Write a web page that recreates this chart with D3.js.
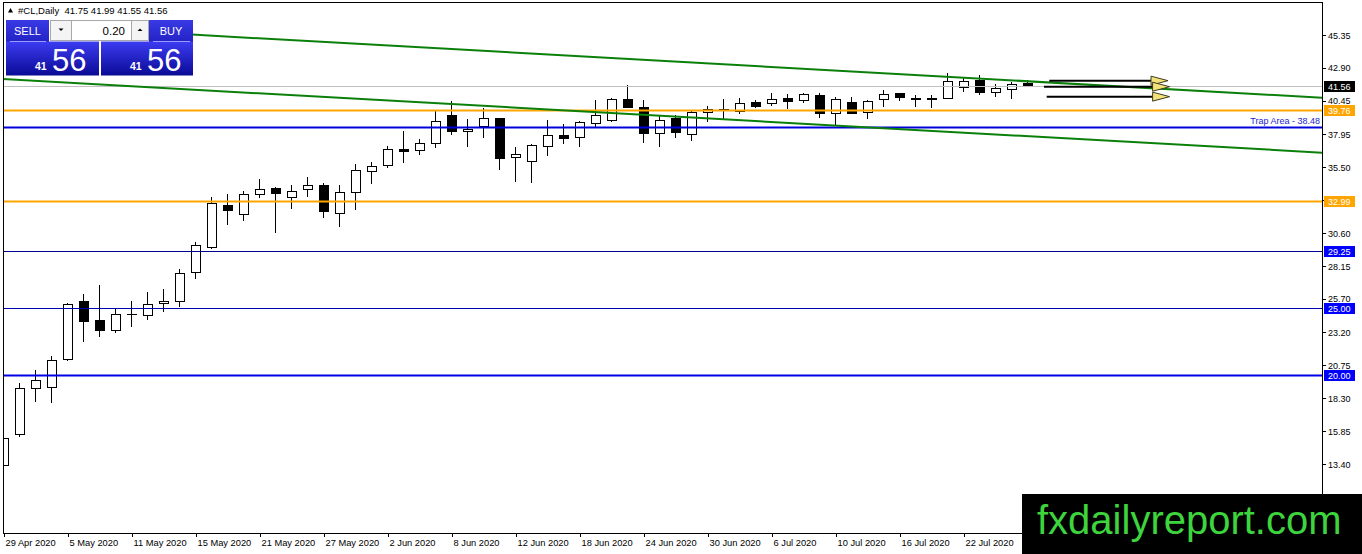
<!DOCTYPE html>
<html>
<head>
<meta charset="utf-8">
<script src="https://d3js.org/d3.v7.min.js"></script>
<style>
    html, body { margin: 0; padding: 0; background: #ffffff; }
    svg { display: block; font-family: "Liberation Sans", Arial, sans-serif; }
</style>
</head>
<body>
<svg id="chart" width="1362" height="554"></svg>
<script>
// chart data

var symbol = "#CL,Daily";

var dates = [
    "29 Apr 2020", "30 Apr 2020",
    "1 May 2020", "4 May 2020", "5 May 2020", "6 May 2020", "7 May 2020", "8 May 2020",
    "11 May 2020", "12 May 2020", "13 May 2020", "14 May 2020", "15 May 2020",
    "18 May 2020", "19 May 2020", "20 May 2020", "21 May 2020", "22 May 2020",
    "25 May 2020", "26 May 2020", "27 May 2020", "28 May 2020", "29 May 2020",
    "1 Jun 2020", "2 Jun 2020", "3 Jun 2020", "4 Jun 2020", "5 Jun 2020",
    "8 Jun 2020", "9 Jun 2020", "10 Jun 2020", "11 Jun 2020", "12 Jun 2020",
    "15 Jun 2020", "16 Jun 2020", "17 Jun 2020", "18 Jun 2020", "19 Jun 2020",
    "22 Jun 2020", "23 Jun 2020", "24 Jun 2020", "25 Jun 2020", "26 Jun 2020",
    "29 Jun 2020", "30 Jun 2020", "1 Jul 2020", "2 Jul 2020", "3 Jul 2020",
    "6 Jul 2020", "7 Jul 2020", "8 Jul 2020", "9 Jul 2020", "10 Jul 2020",
    "13 Jul 2020", "14 Jul 2020", "15 Jul 2020", "16 Jul 2020", "17 Jul 2020",
    "20 Jul 2020", "21 Jul 2020", "22 Jul 2020", "23 Jul 2020", "24 Jul 2020",
    "27 Jul 2020", "28 Jul 2020"
];

var opens = [
    13.33, 15.64, 19.04, 19.12, 21.20, 25.49, 24.11, 23.33, 24.52, 24.48,
    25.37, 25.49, 27.68, 29.51, 32.62, 31.99, 33.49, 33.93, 33.27, 33.81,
    34.11, 32.07, 33.61, 35.20, 35.60, 36.86, 36.73, 37.26, 39.39, 38.18,
    38.57, 39.10, 36.24, 35.95, 37.06, 37.83, 37.73, 38.77, 38.95, 40.58,
    39.97, 38.03, 39.10, 37.96, 39.59, 39.71, 39.69, 40.36, 40.23, 40.64,
    40.46, 40.88, 39.52, 40.34, 39.59, 40.58, 40.96, 40.62, 40.62, 40.64,
    41.46, 41.99, 41.08, 41.31, 41.75
];

var highs = [
    16.76, 19.42, 20.41, 21.45, 25.37, 26.06, 26.73, 24.92, 25.54, 26.19,
    26.42, 27.91, 29.91, 33.27, 33.51, 33.73, 34.63, 34.00, 34.18, 34.75,
    34.31, 34.18, 35.74, 35.87, 37.09, 38.20, 37.61, 39.71, 40.44, 39.10,
    39.94, 39.20, 37.03, 37.23, 39.02, 38.70, 38.95, 40.51, 40.64, 41.63,
    40.51, 39.39, 39.39, 39.69, 40.06, 40.56, 40.68, 40.51, 41.01, 40.96,
    41.05, 41.01, 40.76, 40.71, 40.51, 41.25, 41.05, 40.88, 40.88, 42.50,
    42.13, 42.37, 41.68, 41.87, 41.99
];

var lows = [
    12.66, 15.44, 18.05, 17.97, 21.10, 22.51, 22.88, 23.18, 23.63, 24.13,
    24.75, 25.12, 27.16, 29.45, 31.20, 31.52, 33.24, 30.63, 32.39, 33.31,
    31.75, 31.08, 32.32, 34.23, 35.45, 35.84, 36.41, 36.96, 37.90, 36.99,
    37.70, 35.30, 34.43, 34.31, 36.36, 37.21, 36.99, 38.40, 38.90, 39.90,
    37.29, 36.99, 37.70, 37.48, 38.85, 39.07, 39.45, 39.89, 40.08, 39.82,
    40.26, 39.19, 38.65, 39.47, 39.07, 40.01, 40.46, 39.97, 39.89, 40.56,
    41.13, 40.88, 40.71, 40.56, 41.55
];

var closes = [
    15.34, 19.04, 19.66, 21.15, 25.25, 24.00, 23.33, 24.55, 24.55, 25.30,
    25.52, 27.61, 29.66, 32.82, 32.27, 33.51, 33.86, 33.53, 33.71, 34.16,
    32.19, 33.64, 35.27, 35.57, 36.86, 36.69, 37.29, 38.92, 38.15, 38.35,
    39.10, 36.14, 36.47, 37.09, 37.88, 37.66, 38.85, 39.37, 40.58, 39.94,
    38.03, 39.00, 38.10, 39.56, 39.77, 39.77, 40.26, 40.01, 40.56, 40.41,
    40.93, 39.52, 40.56, 39.52, 40.41, 40.93, 40.71, 40.60, 40.60, 41.87,
    41.87, 41.08, 41.33, 41.70, 41.56
];

var priceTicks = ["45.35", "42.90", "40.45", "37.95", "35.50", "33.05", "30.60",
    "28.15", "25.70", "23.20", "20.75", "18.30", "15.85", "13.40", "10.95"];

var dateTicks = ["29 Apr 2020", "5 May 2020", "11 May 2020", "15 May 2020",
    "21 May 2020", "27 May 2020", "2 Jun 2020", "8 Jun 2020", "12 Jun 2020",
    "18 Jun 2020", "24 Jun 2020", "30 Jun 2020", "6 Jul 2020", "10 Jul 2020",
    "16 Jul 2020", "22 Jul 2020"];

// horizontal levels (price) and the trap label
var levelPrices = [39.76, 38.48, 32.99, 29.25, 25.00, 20.00];
var trapText = "Trap Area - 38.48";

// channel lines as [bar index, price] pairs
var channelUpper = [[11.5, 45.40], [83, 40.64]];
var channelLower = [[-0.5, 42.10], [83, 36.55]];

// the three arrows on the right (bar index from / to, price)
var arrowFrom = [65.36, 65.03, 65.20];
var arrowTo = [71.72, 71.82, 71.82];
var arrowPrice = [41.95, 41.50, 40.76];

var lotSize = "0.20";
var siteName = "fxdailyreport.com";

(function () {
    "use strict";

    var svg = d3.select("#chart");

    // plot frame
    var left = 3, right = 1322, top = 2, bottom = 533;

    var x = d3.scaleLinear().domain([0, 64]).range([3.5, 1027.5]);
    var y = d3.scaleLinear().domain([13.40, 45.35]).range([464.1, 35]);

    var defs = svg.append("defs");
    defs.append("clipPath").attr("id", "plot")
        .append("rect")
        .attr("x", left).attr("y", top)
        .attr("width", right - left).attr("height", bottom - top);

    var bodyGrad = defs.append("linearGradient").attr("id", "boxGrad")
        .attr("x1", 0).attr("y1", 0).attr("x2", 0).attr("y2", 1);
    bodyGrad.append("stop").attr("offset", "0%").attr("stop-color", "#3c3cf2");
    bodyGrad.append("stop").attr("offset", "100%").attr("stop-color", "#0a0a96");

    var headGrad = defs.append("linearGradient").attr("id", "headGrad")
        .attr("x1", 0).attr("y1", 0).attr("x2", 0).attr("y2", 1);
    headGrad.append("stop").attr("offset", "0%").attr("stop-color", "#3a3ae6");
    headGrad.append("stop").attr("offset", "100%").attr("stop-color", "#2222c4");

    var plot = svg.append("g").attr("clip-path", "url(#plot)");

    var bars = d3.range(dates.length).map(function (i) {
        return { i: i, o: opens[i], h: highs[i], l: lows[i], c: closes[i] };
    });

    // candles
    var candle = plot.append("g").attr("shape-rendering", "crispEdges")
        .selectAll("g")
        .data(bars)
        .enter()
        .append("g");

    candle.append("line")
        .attr("x1", function (d) { return x(d.i); })
        .attr("x2", function (d) { return x(d.i); })
        .attr("y1", function (d) { return y(d.h); })
        .attr("y2", function (d) { return y(d.l); })
        .attr("stroke", "#000")
        .attr("stroke-width", 1);

    candle.append("rect")
        .attr("x", function (d) { return x(d.i) - 4.5; })
        .attr("width", 9)
        .attr("y", function (d) { return y(Math.max(d.o, d.c)); })
        .attr("height", function (d) { return Math.max(0.5, Math.abs(y(d.o) - y(d.c))); })
        .attr("fill", function (d) { return d.c >= d.o ? "#ffffff" : "#000000"; })
        .attr("stroke", "#000")
        .attr("stroke-width", 1);

    // horizontal levels
    var levelColor = ["#ffa500", "#0000dc", "#ffa500", "#000090", "#0000b4", "#0000e6"];
    var levelWidth = [2, 2, 2, 1, 1, 2];
    var boxColor = ["#ffa500", null, "#ffa500", "#0000ff", "#0000ff", "#0000ff"];

    plot.selectAll(".level")
        .data(levelPrices)
        .enter()
        .append("line")
        .attr("class", "level")
        .attr("x1", left).attr("x2", right)
        .attr("y1", function (d) { return Math.round(y(d)) + 0.5; })
        .attr("y2", function (d) { return Math.round(y(d)) + 0.5; })
        .attr("stroke", function (d, i) { return levelColor[i]; })
        .attr("stroke-width", function (d, i) { return levelWidth[i]; });

    // bid line
    var bid = closes[closes.length - 1];
    plot.append("line")
        .attr("x1", left).attr("x2", right)
        .attr("y1", Math.round(y(bid)) + 0.5).attr("y2", Math.round(y(bid)) + 0.5)
        .attr("stroke", "#c0c0c0").attr("stroke-width", 1);

    // channel
    var line = d3.line()
        .x(function (d) { return x(d[0]); })
        .y(function (d) { return y(d[1]); });

    plot.selectAll(".channel")
        .data([channelUpper, channelLower])
        .enter()
        .append("path")
        .attr("class", "channel")
        .attr("d", line)
        .attr("fill", "none")
        .attr("stroke", "#0a800a")
        .attr("stroke-width", 2);

    plot.append("text")
        .attr("x", right - 2)
        .attr("y", y(levelPrices[1]) - 3)
        .attr("text-anchor", "end")
        .attr("font-size", "9px")
        .attr("fill", "#1c1cd0")
        .text(trapText);

    // arrows
    var arrows = d3.range(arrowPrice.length).map(function (i) {
        return { a: arrowFrom[i], b: arrowTo[i], p: arrowPrice[i] };
    });

    var arrow = plot.selectAll(".arrow")
        .data(arrows)
        .enter()
        .append("g")
        .attr("class", "arrow");

    arrow.append("line")
        .attr("x1", function (d) { return x(d.a); })
        .attr("x2", function (d) { return x(d.b); })
        .attr("y1", function (d) { return y(d.p); })
        .attr("y2", function (d) { return y(d.p); })
        .attr("stroke", "#000")
        .attr("stroke-width", 2);

    arrow.append("path")
        .attr("d", function (d) {
            var bx = x(d.b), by = y(d.p);
            return "M" + bx + "," + (by - 4.5) + "L" + (bx + 17) + "," + by +
                "L" + bx + "," + (by + 4.5) + "Z";
        })
        .attr("fill", "#f3e277")
        .attr("stroke", "#3a3a20")
        .attr("stroke-width", 1);

    // frame
    svg.append("rect")
        .attr("x", left + 0.5).attr("y", top + 0.5)
        .attr("width", right - left).attr("height", bottom - top)
        .attr("fill", "none")
        .attr("stroke", "#000")
        .attr("stroke-width", 1)
        .attr("shape-rendering", "crispEdges");

    // price axis
    var yAxis = svg.append("g").attr("shape-rendering", "crispEdges");
    yAxis.selectAll("line")
        .data(priceTicks)
        .enter()
        .append("line")
        .attr("x1", right).attr("x2", right + 4)
        .attr("y1", function (d) { return Math.round(y(+d)) + 0.5; })
        .attr("y2", function (d) { return Math.round(y(+d)) + 0.5; })
        .attr("stroke", "#000");
    yAxis.selectAll("text")
        .data(priceTicks)
        .enter()
        .append("text")
        .attr("x", right + 6)
        .attr("y", function (d) { return y(+d) + 3.5; })
        .attr("font-size", "9px")
        .attr("fill", "#000")
        .text(function (d) { return d; });

    // time axis
    var xAxis = svg.append("g").attr("shape-rendering", "crispEdges");
    xAxis.selectAll("line")
        .data(dateTicks)
        .enter()
        .append("line")
        .attr("x1", function (d) { return Math.round(x(dates.indexOf(d))) + 0.5; })
        .attr("x2", function (d) { return Math.round(x(dates.indexOf(d))) + 0.5; })
        .attr("y1", bottom).attr("y2", bottom + 4)
        .attr("stroke", "#000");
    xAxis.selectAll("text")
        .data(dateTicks)
        .enter()
        .append("text")
        .attr("x", function (d) { return x(dates.indexOf(d)) + 2; })
        .attr("y", 546)
        .attr("font-size", "9.3px")
        .attr("fill", "#000")
        .text(function (d) { return d; });

    // price boxes on the right scale
    var tags = [{ p: bid, c: "#000000" }];
    levelPrices.forEach(function (p, i) {
        if (boxColor[i]) tags.push({ p: p, c: boxColor[i] });
    });

    var tag = svg.selectAll(".tag")
        .data(tags)
        .enter()
        .append("g")
        .attr("class", "tag");
    tag.append("rect")
        .attr("x", right + 2)
        .attr("y", function (d) { return Math.round(y(d.p)) - 5; })
        .attr("width", 31).attr("height", 11)
        .attr("fill", function (d) { return d.c; });
    tag.append("text")
        .attr("x", right + 6)
        .attr("y", function (d) { return Math.round(y(d.p)) + 4; })
        .attr("font-size", "9px")
        .attr("fill", "#fff")
        .text(function (d) { return d.p.toFixed(2); });

    // title line
    var last = bars[bars.length - 1];
    svg.append("path")
        .attr("d", "M8,12.5L10.5,8L13,12.5Z")
        .attr("fill", "#000");
    svg.append("text")
        .attr("x", 18).attr("y", 14)
        .attr("font-size", "9.5px")
        .attr("fill", "#000")
        .attr("xml:space", "preserve")
        .text(symbol + "  " + [last.o, last.h, last.l, last.c].map(function (v) { return v.toFixed(2); }).join(" "));

    // one click trading panel
    var panel = svg.append("g");
    var parts = bid.toFixed(2).split(".");

    panel.append("rect").attr("x", 6).attr("y", 20).attr("width", 43).attr("height", 22).attr("fill", "url(#headGrad)");
    panel.append("rect").attr("x", 149).attr("y", 20).attr("width", 44).attr("height", 22).attr("fill", "url(#headGrad)");
    panel.append("rect").attr("x", 6).attr("y", 41.5).attr("width", 93).attr("height", 34).attr("fill", "url(#boxGrad)");
    panel.append("rect").attr("x", 101).attr("y", 41.5).attr("width", 92).attr("height", 34).attr("fill", "url(#boxGrad)");
    panel.append("line").attr("x1", 10).attr("x2", 46).attr("y1", 41.5).attr("y2", 41.5).attr("stroke", "#9a9aff");
    panel.append("line").attr("x1", 153).attr("x2", 190).attr("y1", 41.5).attr("y2", 41.5).attr("stroke", "#9a9aff");

    // lot spinner
    panel.append("rect").attr("x", 50.5).attr("y", 20.5).attr("width", 98).attr("height", 20)
        .attr("fill", "#fff").attr("stroke", "#a8a8a8");
    panel.append("rect").attr("x", 50.5).attr("y", 20.5).attr("width", 21).attr("height", 20)
        .attr("fill", "#f4f4f4").attr("stroke", "#a8a8a8");
    panel.append("rect").attr("x", 131.5).attr("y", 20.5).attr("width", 17).attr("height", 20)
        .attr("fill", "#f4f4f4").attr("stroke", "#a8a8a8");
    panel.append("path").attr("d", "M58.5,28.5L63.5,28.5L61,31Z").attr("fill", "#000");
    panel.append("path").attr("d", "M137.5,31L142.5,31L140,28.5Z").attr("fill", "#000");
    panel.append("text").attr("x", 125).attr("y", 34.5).attr("text-anchor", "end")
        .attr("font-size", "11.5px").attr("fill", "#000").text(lotSize);

    panel.append("text").attr("x", 27.5).attr("y", 35).attr("text-anchor", "middle")
        .attr("font-size", "11px").attr("fill", "#fff").text("SELL");
    panel.append("text").attr("x", 171).attr("y", 35).attr("text-anchor", "middle")
        .attr("font-size", "11px").attr("fill", "#fff").text("BUY");

    [[35, 52], [130, 147]].forEach(function (p) {
        panel.append("text").attr("x", p[0]).attr("y", 69.5)
            .attr("font-size", "10.5px").attr("font-weight", "bold").attr("fill", "#fff").text(parts[0]);
        panel.append("text").attr("x", p[1]).attr("y", 71)
            .attr("font-size", "31px").attr("fill", "#fff").text(parts[1]);
    });

    // watermark
    svg.append("rect").attr("x", 1022).attr("y", 494).attr("width", 340).attr("height", 60).attr("fill", "#000");
    svg.append("text").attr("x", 1037).attr("y", 534)
        .attr("font-size", "40px").attr("fill", "#3ed43e").text(siteName);

})();
</script>
</body>
</html>
